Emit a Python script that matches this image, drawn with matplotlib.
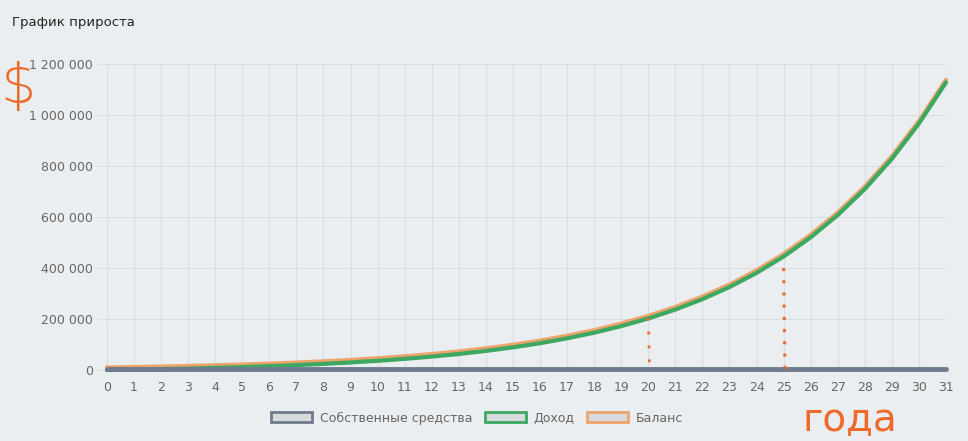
import matplotlib.pyplot as plt
from matplotlib.patches import Patch
from matplotlib.ticker import FuncFormatter

# годы и значения (приблизительно)
years = list(range(0, 32))
balance = [10000, 11650, 13570, 15810, 18420, 21460, 25000, 29130, 33930, 39530,
           46050, 53650, 62500, 72820, 84830, 98830, 115130, 134130, 156260, 182040,
           212080, 247070, 287840, 335330, 390660, 455120, 530210, 617700, 719620,
           838350, 976680, 1137840]
own_funds = [4000] * len(years)
income = [b - balance[0] for b in balance]

labels = ['Собственные средства', 'Доход', 'Баланс']
colors = ['#6f7b8c', '#3ca862', '#eea36a']
bg = '#ebeef0'

fig = plt.figure(figsize=(9.68, 4.41), dpi=100, facecolor=bg)
ax = fig.add_axes([0.1105, 0.161, 0.8668, 0.6939], facecolor=bg)

ax.plot(years, balance, color=colors[2], lw=3, zorder=3, solid_capstyle='round', clip_on=False)
ax.plot(years, income, color=colors[1], lw=3, zorder=4, solid_capstyle='round', clip_on=False)
ax.plot(years, own_funds, color=colors[0], lw=3.5, zorder=5, solid_capstyle='round', clip_on=False)

ax.set_xlim(0, 31)
ax.set_ylim(0, 1200000)
ax.set_xticks(years)
ax.set_yticks(range(0, 1200001, 200000))
ax.yaxis.set_major_formatter(FuncFormatter(lambda v, p: f'{int(v):,}'.replace(',', ' ')))
ax.grid(True, color='#d9dde0', lw=0.8)
ax.set_axisbelow(True)
for s in ax.spines.values():
    s.set_visible(False)
ax.tick_params(axis='x', length=0, pad=8, labelsize=9, labelcolor='#666666')
ax.tick_params(axis='y', length=7, width=0.8, color='#d9dde0', pad=3, labelsize=9, labelcolor='#666666')

fig.text(0.012, 0.95, 'График прироста', fontsize=9.5, color='#222222', va='center')

# рукописные пометки
anno = '#ee6a2a'
ax.plot([20, 20.05], [205000, 0], color=anno, lw=2, ls=(0, (1, 4)), zorder=6)
ax.plot([25, 25.05], [400000, 0], color=anno, lw=2.2, ls=(0, (1, 3)), zorder=6)
fig.text(0.019, 0.80, '$', fontsize=40, fontweight='light', color=anno, ha='center', va='center')
fig.text(0.878, 0.048, 'года', fontsize=28, color=anno, ha='center', va='center')

handles = [Patch(facecolor='#d8dbdd', edgecolor=c, lw=2) for c in colors]
fig.legend(handles, labels, loc='center', bbox_to_anchor=(0.493, 0.052), ncol=3,
           frameon=False, fontsize=9, labelcolor='#666666', handlelength=3.3,
           handleheight=0.9, handletextpad=0.6, columnspacing=1.0)

fig.savefig('out.png', dpi=100, facecolor=bg)
